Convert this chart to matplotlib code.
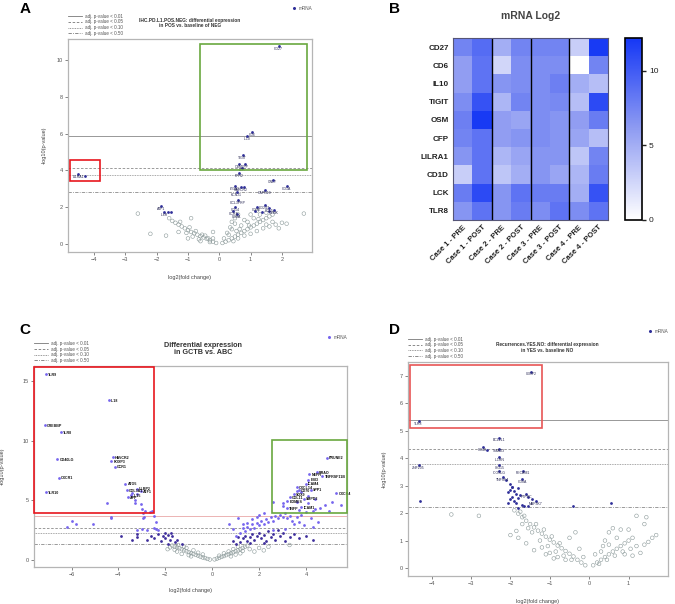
import numpy as np
import matplotlib.pyplot as plt
from matplotlib.colors import LinearSegmentedColormap
from matplotlib.lines import Line2D
from matplotlib.patches import Rectangle

plt.rcParams['font.family'] = ['Liberation Sans', 'DejaVu Sans']

W, H = 675, 604

# ---------------- panel A data ----------------
a_gray = [(-0.1, 0.05), (-0.2, 0.12), (-0.3, 0.2), (-0.4, 0.28), (-0.5, 0.35), (-0.6, 0.42),
          (-0.7, 0.5), (-0.8, 0.58), (-0.9, 0.65), (-1.0, 0.75), (-1.1, 0.85), (-1.2, 0.95),
          (-1.3, 1.05), (-1.4, 1.15), (-1.5, 1.25), (-1.6, 1.4), (-0.35, 0.3), (-0.55, 0.5),
          (-0.75, 0.7), (-0.95, 0.9), (-1.05, 0.6), (-0.65, 0.25), (-0.45, 0.45), (-1.25, 1.2),
          (-0.85, 0.4), (-1.0, 0.3), (-0.3, 0.1), (-0.2, 0.3), (-2.2, 0.55), (-1.7, 0.45),
          (-2.6, 1.65), (-0.9, 1.4), (-0.2, 0.65), (-1.3, 0.65), (-0.6, 0.15),
          (0.1, 0.05), (0.2, 0.12), (0.3, 0.2), (0.4, 0.3), (0.5, 0.4), (0.6, 0.5), (0.7, 0.6),
          (0.8, 0.7), (0.9, 0.8), (1.0, 0.9), (1.1, 1.0), (1.2, 1.1), (1.3, 1.2), (1.4, 1.3),
          (1.5, 1.4), (1.6, 1.5), (1.7, 1.6), (0.3, 0.5), (0.4, 0.8), (0.5, 1.1), (0.5, 1.4),
          (0.6, 1.6), (0.4, 1.2), (0.35, 0.9), (0.6, 0.3), (0.8, 0.45), (1.0, 0.55), (1.2, 0.7),
          (1.4, 0.85), (1.6, 0.95), (1.8, 1.05), (2.0, 1.15), (0.9, 1.2), (1.1, 1.4), (1.3, 1.6),
          (1.5, 1.7), (1.2, 1.8), (1.0, 1.6), (0.7, 1.0), (0.8, 1.3), (0.65, 0.8), (1.7, 1.2),
          (1.9, 0.85), (2.15, 1.1), (2.7, 1.65), (0.15, 0.3), (0.25, 0.6), (0.45, 0.15),
          (1.5, 1.05), (1.25, 1.35), (0.95, 1.0), (0.55, 0.7)]
a_genes = ["CD27", "CD6", "IL10", "TIGIT", "OSM", "CFP", "LCK", "FPR2", "LILRA1", "",
           "GNLY", "CD1A", "CAPN10", "ITGAX", "HAVCR2", "", "KCNJ1", "CCL3PRP", "ATF1",
           "IL6R", "", "", "CD14", "CCR4", "CD8A", "CD3E", "CD247", "CCL5", "GZMK",
           "", "", ""]
a_sig_x = [1.9, 1.05, 0.9, 0.75, 0.62, 0.82, 0.72, 0.62, -4.5, -4.3,
           1.7, 2.15, 1.45, 0.5, 0.7, 0.8, 0.55, 0.6, -1.85,
           -1.75, -1.65, -1.55, 0.5, 0.45, 0.55, 1.2, 1.45, 1.6, 1.75,
           1.35, 1.6, 1.15]
a_sig_y = [10.75, 6.1, 5.85, 4.85, 4.35, 4.35, 4.15, 3.85, 3.78, 3.72,
           3.5, 3.15, 2.95, 3.15, 3.1, 3.1, 2.8, 2.4, 2.05,
           1.75, 1.75, 1.72, 2.0, 1.8, 1.62, 2.0, 2.1, 1.95, 1.85,
           1.75, 1.8, 1.8]
thr_a = [5.85, 4.13, 3.77, 2.83]

# ---------------- panel B data ----------------
b_genes = ["CD27", "CD6", "IL10", "TIGIT", "OSM", "CFP", "LILRA1", "CD1D", "LCK", "TLR8"]
b_samples = ["Case 1 - PRE", "Case 1 - POST", "Case 2 - PRE", "Case 2 - POST",
             "Case 3 - PRE", "Case 3 - POST", "Case 4 - PRE", "Case 4 - POST"]
b_values = [[7.5, 9.0, 5.0, 7.5, 7.5, 7.5, 3.0, 12.0],
            [6.0, 8.5, 2.5, 7.0, 7.0, 7.0, 0.0, 7.5],
            [6.0, 8.5, 6.5, 7.0, 7.0, 7.8, 5.0, 4.0],
            [7.0, 10.5, 4.5, 7.5, 7.0, 7.2, 4.0, 11.0],
            [7.8, 12.0, 6.0, 5.5, 7.0, 6.5, 6.0, 8.0],
            [7.5, 8.5, 6.0, 6.5, 7.0, 6.5, 5.5, 4.0],
            [6.5, 8.5, 4.5, 5.5, 6.5, 6.5, 3.5, 7.5],
            [3.0, 8.5, 3.5, 5.0, 6.5, 5.5, 4.5, 8.0],
            [8.0, 11.0, 6.5, 8.5, 8.0, 8.0, 5.0, 10.5],
            [6.5, 8.5, 6.5, 8.0, 7.0, 8.5, 7.0, 8.5]]

# ---------------- panel C data ----------------
c_gray = [(-0.1, 0.03), (-0.2, 0.08), (-0.3, 0.15), (-0.4, 0.2), (-0.5, 0.27), (-0.6, 0.35),
          (-0.7, 0.42), (-0.8, 0.5), (-0.9, 0.57), (-1.0, 0.65), (-1.1, 0.72), (-1.2, 0.8),
          (-1.3, 0.9), (-1.4, 0.98), (-1.5, 1.05), (-1.6, 1.12), (-1.7, 1.2), (-1.8, 1.05),
          (-1.2, 1.1), (-1.0, 0.4), (-0.8, 0.8), (-1.5, 0.7), (-1.3, 0.5), (-0.6, 0.6),
          (-0.4, 0.45), (-1.6, 0.85), (-1.1, 1.0), (-0.9, 0.3), (-1.45, 1.25), (-1.9, 0.9),
          (0.1, 0.04), (0.2, 0.1), (0.3, 0.17), (0.4, 0.25), (0.5, 0.32), (0.6, 0.4), (0.7, 0.48),
          (0.8, 0.56), (0.9, 0.64), (1.0, 0.72), (1.1, 0.8), (1.2, 0.9), (1.3, 1.0), (1.4, 1.1),
          (0.5, 0.55), (0.7, 0.7), (0.9, 0.9), (1.1, 1.1), (1.3, 0.75), (1.5, 1.2), (1.6, 0.9),
          (1.8, 0.7), (2.0, 1.0), (2.2, 0.8), (2.4, 1.1), (3.3, 1.25), (0.3, 0.35), (0.8, 0.3),
          (1.0, 0.45), (1.2, 0.55)]
c_light = [(1.0, 2.0), (1.2, 2.3), (1.4, 2.4), (1.5, 2.8), (1.6, 2.6), (1.7, 3.0), (1.8, 2.7),
           (1.9, 3.1), (2.0, 2.9), (2.1, 3.3), (2.2, 3.0), (2.3, 3.4), (2.4, 3.2), (2.5, 3.6),
           (2.6, 3.3), (2.7, 3.7), (2.8, 3.5), (2.9, 3.8), (3.0, 3.6), (3.1, 3.9), (3.2, 3.5),
           (3.3, 3.7), (3.4, 3.3), (3.6, 3.6), (3.8, 3.8), (4.0, 4.0), (4.2, 3.5), (3.5, 3.0),
           (3.7, 3.2), (1.3, 2.7), (1.5, 3.1), (1.7, 3.4), (1.9, 3.6), (1.1, 3.5), (0.7, 3.0),
           (2.0, 3.8), (2.2, 3.9), (4.5, 3.2), (4.3, 2.8), (3.9, 2.9), (3.1, 2.6), (2.6, 2.5),
           (1.3, 3.0), (0.9, 2.6),
           (-6.2, 2.8), (-6.0, 3.3), (-5.8, 3.0), (-5.1, 3.0), (-4.3, 3.6), (-4.3, 3.5),
           (-2.9, 3.6), (-2.95, 3.5), (-2.5, 3.7), (-2.4, 3.2), (-3.0, 2.6), (-3.2, 2.5),
           (-2.5, 2.7), (-2.4, 2.6), (-2.3, 2.55), (-2.8, 2.55),
           (-3.3, 5.05), (-3.3, 4.75), (-3.05, 4.7), (-4.5, 4.75), (-3.0, 4.3), (-2.85, 4.1),
           (-2.65, 4.05), (-2.55, 4.15), (-2.95, 3.95), (-3.2, 5.5), (-3.4, 5.6)]
c_dark = [(0.9, 1.6), (1.1, 1.9), (1.2, 1.5), (1.3, 1.8), (1.4, 2.0), (1.5, 1.6), (1.6, 1.9),
          (1.7, 2.2), (1.8, 1.7), (1.9, 2.0), (2.0, 2.3), (2.1, 1.8), (2.2, 2.1), (2.3, 1.6),
          (2.4, 2.4), (2.5, 1.9), (2.6, 2.2), (2.7, 1.7), (2.9, 2.0), (3.1, 1.6), (3.3, 1.9),
          (3.5, 2.2), (3.7, 1.8), (4.0, 2.0), (4.3, 1.7), (1.0, 1.3), (1.6, 1.4), (2.8, 2.5),
          (3.0, 2.3), (2.2, 1.4),
          (-3.9, 2.0), (-3.4, 1.7), (-3.2, 2.2), (-3.2, 1.9), (-2.6, 2.0), (-2.3, 2.2),
          (-2.1, 2.0), (-2.0, 1.8), (-1.9, 2.1), (-1.8, 1.7), (-1.7, 2.0), (-1.6, 1.5),
          (-2.2, 1.6), (-2.5, 1.8), (-1.9, 1.35), (-2.8, 1.7), (-2.0, 2.3), (-1.75, 2.25),
          (-1.5, 1.7), (-1.3, 1.3)]
c_genes = ["TLR9", "IL18", "CREBBP", "TLR8", "HAVCR2", "FOXP3", "CCR1", "CD40LG", "CXCR1",
           "TLR10", "ATG5", "ULBP2", "COL3A1", "ATF1", "IL15", "APP",
           "PRUNE2", "BRAO", "NEFH", "EBI3", "TNFRSF11B", "ICAM4", "CXCL14", "CD70", "",
           "SOX9", "", "SPP1", "", "EOMES", "SMPD3", "COL11", "TNFP", "ICAM1", "CXCR4",
           "", "", "", "", "", "", "", "", "", "", "", "", "", ""]
c_sig_x = [-7.1, -4.4, -7.15, -6.45, -4.25, -4.3, -4.15, -6.6, -6.55,
           -7.1, -3.7, -3.2, -3.65, -3.05, -3.45, -3.6,
           4.9, 4.45, 4.15, 4.1, 4.7, 4.0, 3.6, 3.7, 3.6, 3.5, 3.8, 4.2, 4.1, 3.2, 3.9, 3.3,
           3.2, 3.8, 5.3,
           3.0, 3.6, 4.4, 4.1, 3.7, 4.4, 4.6, 4.8, 5.1, 5.5, 2.6, 3.0, 4.3, 5.0]
c_sig_y = [15.6, 13.4, 11.3, 10.75, 8.65, 8.3, 7.85, 8.45, 6.9,
           5.7, 6.4, 6.0, 5.85, 5.8, 5.45, 5.3,
           8.6, 7.4, 7.2, 6.75, 7.05, 6.4, 6.1, 5.85, 5.8, 5.55, 5.7, 5.9, 5.4, 4.95, 5.15, 5.3,
           4.35, 4.45, 5.6,
           4.8, 4.9, 5.1, 4.8, 4.2, 4.3, 4.4, 4.6, 4.9, 4.6, 4.9, 4.5, 4.1, 4.1]
thr_c = [3.7, 2.65, 2.24, 1.3]

# ---------------- panel D data ----------------
d_gray = [(-0.1, 0.1), (-0.2, 0.2), (-0.3, 0.3), (-0.4, 0.42), (-0.5, 0.52), (-0.6, 0.62),
          (-0.7, 0.72), (-0.8, 0.82), (-0.9, 0.93), (-1.0, 1.03), (-1.1, 1.14), (-1.2, 1.25),
          (-1.3, 1.36), (-1.4, 1.48), (-1.5, 1.6), (-1.6, 1.72), (-1.7, 1.85), (-1.8, 1.98),
          (-1.9, 2.1), (-1.75, 2.05), (-1.65, 1.9), (-1.45, 1.3), (-1.25, 1.0), (-1.05, 0.8),
          (-0.85, 0.6), (-0.65, 0.45), (-0.45, 0.3), (-1.55, 1.45), (-1.35, 1.6), (-1.15, 1.4),
          (-0.95, 1.15), (-0.75, 0.9), (-1.2, 0.75), (-1.0, 0.55), (-0.8, 0.4), (-0.6, 0.3),
          (-2.0, 1.2), (-1.8, 1.1), (-1.6, 0.9), (-1.1, 0.5), (-0.9, 0.35), (-3.5, 1.95),
          (-2.8, 1.9), (-1.85, 1.35), (-1.4, 0.65), (-0.5, 1.1), (-0.35, 1.3), (-0.25, 0.7),
          (-0.15, 0.4), (-1.7, 1.6),
          (0.1, 0.1), (0.2, 0.2), (0.3, 0.3), (0.4, 0.4), (0.5, 0.5), (0.6, 0.6), (0.7, 0.7),
          (0.8, 0.8), (0.9, 0.9), (1.0, 1.0), (1.1, 1.1), (0.25, 0.15), (0.45, 0.3), (0.65, 0.45),
          (0.85, 0.6), (1.05, 0.7), (1.2, 0.8), (1.4, 0.85), (1.5, 0.95), (1.6, 1.1), (1.7, 1.2),
          (0.3, 0.6), (0.5, 0.85), (0.7, 1.1), (0.8, 1.4), (0.5, 1.3), (0.6, 1.45), (0.4, 1.0),
          (1.2, 1.9), (1.4, 1.6), (1.45, 1.85), (1.0, 1.4), (0.15, 0.5), (0.35, 0.8), (0.9, 0.5),
          (1.1, 0.45), (1.3, 0.55)]
d_genes = ["ULBP2", "TLR8", "BCL2L1", "CD40", "", "SMAD3", "IL1RN", "ISG15", "ICOSLG",
           "PECAM1", "ZNF205", "TNFSF4", "CD8A", "MAP3K7", "PTPRC", "",
           "", "", "", "", "", "", "", "", "", "", "", "", "", "", "", "", "", "", "", "",
           "", "", "", ""]
d_sig_x = [-1.48, -4.33, -2.3, -2.7, -2.6, -2.3, -2.28, -2.28, -2.28, -1.68, -4.33,
           -2.2, -1.7, -1.35, -1.6, -1.95,
           -4.3, -0.4, 0.55, -2.1, -2.0, -1.95, -2.0, -1.9, -1.85, -2.05, -1.95, -1.8,
           -1.75, -2.0, -1.9, -1.85, -1.7, -2.05, -1.55, -1.45, -1.8, -1.65, -1.55, -1.8]
d_sig_y = [7.15, 5.35, 4.75, 4.4, 4.3, 4.35, 4.05, 3.75, 3.55, 3.55, 3.75,
           3.3, 3.25, 2.45, 2.7, 2.95,
           2.45, 2.25, 2.38, 3.2, 3.05, 2.95, 2.85, 2.8, 2.7, 2.75, 2.6, 2.55,
           2.65, 2.5, 2.45, 2.35, 2.3, 2.35, 2.6, 2.5, 2.9, 2.25, 2.25, 2.2]
thr_d = [5.39, 4.32, 3.77, 2.23]

GREEN = '#6aa840'
RED = '#e8161e'
GRAYPT = '#8d9b9b'
thr_styles = ['-', (0, (3, 2)), (0, (1, 1)), (0, (4, 1.5, 1, 1.5))]
thr_names = ['adj. p-value < 0.01', 'adj. p-value < 0.05',
             'adj. p-value < 0.10', 'adj. p-value < 0.50']


def ax_at(l, t, r, b):
    return fig.add_axes([l / W, 1 - b / H, (r - l) / W, (b - t) / H])


def volcano(ax, gray, sx, sy, scol, genes, thr, xlim, ylim, xticks, yticks, title,
            tsize, tpos, bold_labels=False, solid_col='#888888', extra=None):
    gx, gy = np.array(gray).T
    ax.scatter(gx, gy, s=7, facecolors='none', edgecolors=GRAYPT, linewidths=0.4, zorder=2)
    if extra is not None:
        for pts, col in extra:
            ex, ey = np.array(pts).T
            ax.scatter(ex, ey, s=4, color=col, linewidths=0, zorder=3)
    ax.scatter(sx, sy, s=4, color=scol, linewidths=0, zorder=4)
    for g, x, y in zip(genes, sx, sy):
        if not g:
            continue
        if bold_labels:
            ax.annotate(g, (x, y), xytext=(1.5, -0.5), textcoords='offset points',
                        fontsize=2.6, fontweight='bold', ha='left', va='center',
                        color='#111111', zorder=5)
        else:
            ax.annotate(g, (x, y), xytext=(0, -0.6), textcoords='offset points',
                        fontsize=2.5, ha='center', va='top', color='#2a2a55', zorder=5)
    for i, (v, ls) in enumerate(zip(thr, thr_styles)):
        ax.axhline(v, color=solid_col if i == 0 else '#8a8a8a', ls=ls, lw=0.6, zorder=1)
    ax.set_xlim(*xlim)
    ax.set_ylim(*ylim)
    ax.set_xticks(xticks)
    ax.set_yticks(yticks)
    ax.tick_params(labelsize=4, length=2, width=0.5, pad=1.5, colors='#555555')
    for s in ax.spines.values():
        s.set_color('#b5b5b5')
        s.set_linewidth(0.9)
    ax.set_xlabel('log2(fold change)', fontsize=4, color='#444444')
    ax.set_ylabel('-log10(p-value)', fontsize=4, color='#444444')
    ax.text(tpos[0], tpos[1], title, transform=ax.transAxes, ha='center', va='center',
            fontsize=tsize, fontweight='bold', color='#333333', linespacing=1.1)
    handles = [Line2D([], [], color='#777777', ls=ls, lw=0.6) for ls in thr_styles]
    leg = ax.legend(handles, thr_names, loc='lower left', bbox_to_anchor=(0.0, 1.015),
                    frameon=False, fontsize=3.3, handlelength=3, labelspacing=0.15,
                    borderpad=0, borderaxespad=0, handletextpad=0.8)
    for t in leg.get_texts():
        t.set_color('#555555')
    ax.add_artist(leg)
    mh = [Line2D([], [], color=scol, marker='o', ms=1.2, lw=0)]
    ax.legend(mh, ['mRNA'], loc='upper right', bbox_to_anchor=(1.0, 1.155), frameon=False,
              fontsize=3.3, handlelength=0.8, handletextpad=0.5, borderpad=0, borderaxespad=0,
              labelcolor='#555555')


def box(ax, x0, y0, x1, y1, col, lw=1.2):
    ax.add_patch(Rectangle((x0, y0), x1 - x0, y1 - y0, fill=False, ec=col, lw=lw, zorder=6,
                           clip_on=False))


fig = plt.figure(figsize=(W / 100, H / 100), dpi=100)

# ---- A ----
axA = ax_at(68, 39, 312, 252)
volcano(axA, a_gray, a_sig_x, a_sig_y, '#2f2f99', a_genes, thr_a,
        (-4.83, 2.96), (-0.44, 11.15), [-4, -3, -2, -1, 0, 1, 2], [0, 2, 4, 6, 8, 10],
        'IHC.PD.L1.POS.NEG: differential expression\nin POS vs. baseline of NEG', 3.4,
        (0.5, 1.075))
axA.yaxis.set_label_coords(-0.086, 0.5)
axA.xaxis.set_label_coords(0.5, -0.108)
box(axA, -0.6, 4.0, 2.8, 10.9, GREEN)
box(axA, -4.76, 3.4, -3.8, 4.55, RED)

# ---- B ----
cmap = LinearSegmentedColormap.from_list('wb', ['#ffffff', '#8f9cf2', '#1537f5'])
axB = ax_at(453, 38, 608, 220)
im = axB.imshow(np.array(b_values), cmap=cmap, vmin=0, vmax=12.2, aspect='auto')
for xv in [1.5, 3.5, 5.5]:
    axB.axvline(xv, color='black', lw=1.0)
axB.set_xticks(range(len(b_samples)))
axB.set_xticklabels(b_samples, rotation=45, ha='right', va='top', rotation_mode='anchor',
                    fontsize=5.5, fontweight='bold', color='#222222')
axB.set_yticks(range(len(b_genes)))
axB.set_yticklabels(b_genes, fontsize=5.8, fontweight='bold', color='#222222')
axB.tick_params(length=0, pad=3)
for s in axB.spines.values():
    s.set_color('#555577')
    s.set_linewidth(0.8)
axB.set_title('mRNA Log2', fontsize=7.5, fontweight='bold', color='#444444', pad=14)
cax = ax_at(625, 38, 642, 220)
cb = fig.colorbar(im, cax=cax, ticks=[0, 5, 10])
cb.outline.set_linewidth(1.2)
cb.outline.set_edgecolor('black')
cax.tick_params(labelsize=6, length=3, width=1, pad=2, colors='#222222')

# ---- C ----
axC = ax_at(34, 366, 347, 567)
volcano(axC, c_gray, c_sig_x, c_sig_y, '#7766ee', c_genes, thr_c,
        (-7.6, 5.75), (-0.6, 16.3), [-6, -4, -2, 0, 2, 4], [0, 5, 10, 15],
        'Differential expression\nin GCTB vs. ABC', 5.2, (0.54, 1.085), bold_labels=True,
        solid_col='#e9a7a7', extra=[(c_dark, '#3f2f9c'), (c_light, '#7766ee')])
axC.yaxis.set_label_coords(-0.093, 0.5)
axC.xaxis.set_label_coords(0.5, -0.104)
box(axC, -7.6, 3.9, -2.5, 16.2, RED)
box(axC, 2.55, 3.9, 5.75, 10.05, GREEN)

# ---- D ----
axD = ax_at(408, 362, 668, 576)
volcano(axD, d_gray, d_sig_x, d_sig_y, '#2f2f99', d_genes, thr_d,
        (-4.6, 2.0), (-0.29, 7.5), [-4, -3, -2, -1, 0, 1], [0, 1, 2, 3, 4, 5, 6, 7],
        'Recurrences.YES.NO: differential expression\nin YES vs. baseline NO', 3.4,
        (0.535, 1.068))
axD.yaxis.set_label_coords(-0.081, 0.5)
axD.xaxis.set_label_coords(0.5, -0.107)
box(axD, -4.55, 5.1, -1.2, 7.39, '#e85555')

# panel letters
for letter, (px, py) in zip('ABCD', [(25, 9), (395, 9), (25, 330), (395, 330)]):
    fig.text(px / W, 1 - py / H, letter, fontsize=11, fontweight='bold', ha='center',
             va='center')

fig.savefig('out.png', dpi=100)
